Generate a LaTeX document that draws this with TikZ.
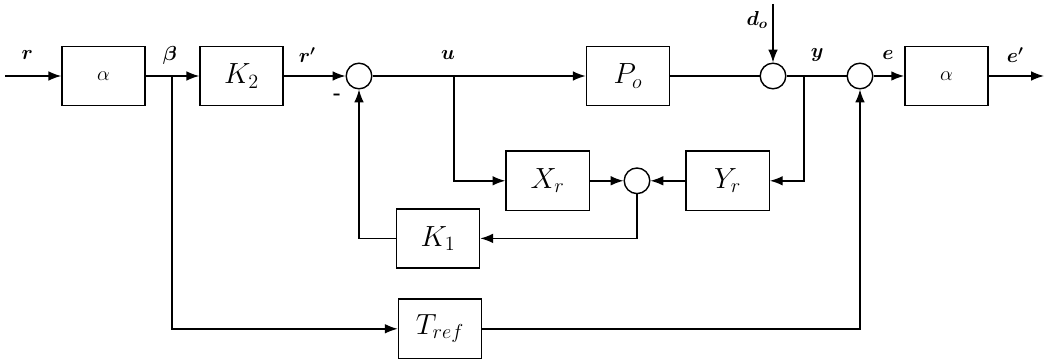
\documentclass[tikz,border=0pt]{standalone}
\usepackage{amsmath,amssymb}
\usepackage{tikz}
\usetikzlibrary{arrows,arrows.meta,positioning,calc}

\begin{document}
\begin{tikzpicture}[
    block/.style={rectangle, draw, line width=1pt, minimum width=2.08cm, minimum height=1.48cm, font=\huge},
    gain/.style={rectangle, draw, line width=1pt, minimum width=2.08cm, minimum height=1.48cm, font=\Large},
    sumnode/.style={circle, draw, line width=1pt, minimum size=0.64cm, inner sep=0pt},
    arrow/.style={-{Latex[length=3.2mm,width=2.4mm]}, line width=1pt},
    line/.style={line width=1pt},
    sig/.style={font=\Large\boldmath}
]
\useasboundingbox (0,0) rectangle (26.2,9);

% Forward path
\coordinate (in) at (0.125,7.1);
\node[gain] (alpha1) at (2.59,7.1) {$\alpha$};
\node[block] (K2) at (6.04,7.1) {$K_2$};
\node[sumnode] (sum1) at (8.975,7.1) {};
\node[block] (Po) at (15.7,7.1) {$P_o$};
\node[sumnode] (sum2) at (19.325,7.1) {};
\node[sumnode] (sum3) at (21.5,7.1) {};
\node[gain] (alpha2) at (23.66,7.1) {$\alpha$};
\coordinate (out) at (26.1,7.1);
\coordinate (dist) at (19.325,8.9);

% Branch points
\coordinate (beta) at (4.3,7.1);
\coordinate (ubr) at (11.35,7.1);
\coordinate (ybr) at (20.1,7.1);

% Inner loop blocks
\node[block] (Xr) at (13.69,4.48) {$X_r$};
\node[sumnode] (sum4) at (15.925,4.48) {};
\node[block] (Yr) at (18.19,4.48) {$Y_r$};
\node[block] (K1) at (10.95,3.04) {$K_1$};
\node[block] (Tref) at (11.0,0.78) {$T_{ref}$};

% Signal labels
\node[sig] at (0.68,7.62) {$r$};
\node[sig] at (4.25,7.62) {$\beta$};
\node[sig] at (7.68,7.62) {$r'$};
\node[sig] at (11.2,7.62) {$u$};
\node[sig] at (8.43,6.57) {\textbf{-}};
\node[sig] at (18.93,8.5) {$d_o$};
\node[sig] at (20.43,7.62) {$y$};
\node[sig] at (22.2,7.62) {$e$};
\node[sig] at (25.38,7.62) {$e'$};

% Arrows
\draw[arrow] (in) -- (alpha1);
\draw[arrow] (alpha1) -- (K2);
\draw[arrow] (K2) -- (sum1);
\draw[arrow] (sum1) -- (Po);
\draw[line] (Po) -- (sum2);
\draw[arrow] (dist) -- (sum2);
\draw[line] (sum2) -- (sum3);
\draw[arrow] (sum3) -- (alpha2);
\draw[arrow] (alpha2) -- (out);

\draw[arrow] (ubr) |- (Xr);
\draw[arrow] (Xr) -- (sum4);
\draw[arrow] (ybr) |- (Yr);
\draw[arrow] (Yr) -- (sum4);
\draw[arrow] (sum4) |- (K1);
\draw[arrow] (K1) -| (sum1);

\draw[arrow] (beta) |- (Tref);
\draw[arrow] (Tref) -| (sum3);

\end{tikzpicture}
\end{document}
